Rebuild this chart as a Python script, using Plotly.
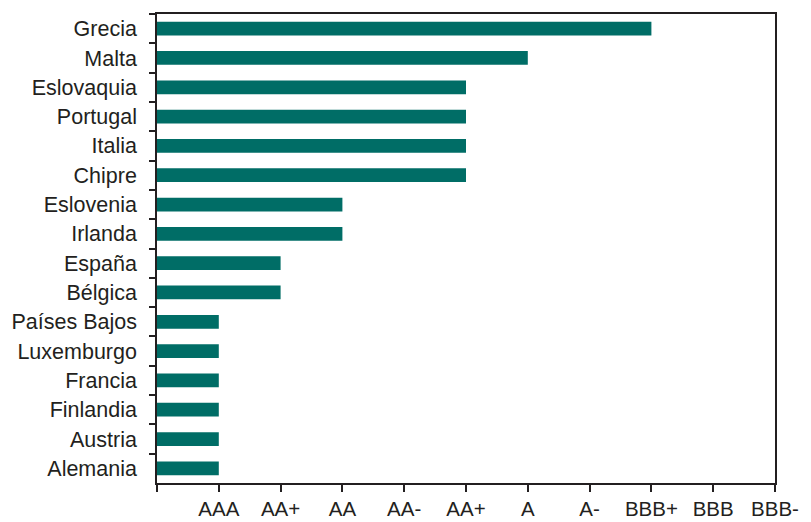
import plotly.graph_objects as go

countries = ["Grecia", "Malta", "Eslovaquia", "Portugal", "Italia", "Chipre",
             "Eslovenia", "Irlanda", "España", "Bélgica", "Países Bajos",
             "Luxemburgo", "Francia", "Finlandia", "Austria", "Alemania"]
rating_index = [8, 6, 5, 5, 5, 5, 3, 3, 2, 2, 1, 1, 1, 1, 1, 1]
tick_positions = [0, 1, 2, 3, 4, 5, 6, 7, 8, 9, 10]
tick_labels = ["", "AAA", "AA+", "AA", "AA-", "AA+", "A", "A-", "BBB+", "BBB", "BBB-"]

axis_color = "#231f20"
font = dict(family="Liberation Sans, Arial, Helvetica, sans-serif", size=21.5, color=axis_color)

fig = go.Figure(go.Bar(
    x=rating_index, y=countries, orientation="h",
    marker=dict(color="#006d66", line=dict(width=0)),
    width=0.47,
))

fig.update_layout(
    width=811, height=522,
    margin=dict(l=157, r=36, t=14, b=39, autoexpand=False),
    paper_bgcolor="white", plot_bgcolor="white",
    font=font, showlegend=False,
    xaxis=dict(range=[0, 10], tickvals=tick_positions, ticktext=tick_labels,
               ticks="outside", ticklen=7, tickwidth=1.5, tickcolor=axis_color,
               showline=True, linecolor=axis_color, linewidth=1.5, mirror=True,
               showgrid=False, zeroline=False, ticklabelstandoff=0, automargin=False,
               tickfont=dict(size=20.5)),
    yaxis=dict(autorange="reversed", type="category", tickson="boundaries",
               ticks="outside", ticklen=6, tickwidth=1.5, tickcolor=axis_color,
               showline=True, linecolor=axis_color, linewidth=1.5, mirror=True,
               showgrid=False, zeroline=False, ticklabelstandoff=14, automargin=False),
)

fig.write_html("out.html")
